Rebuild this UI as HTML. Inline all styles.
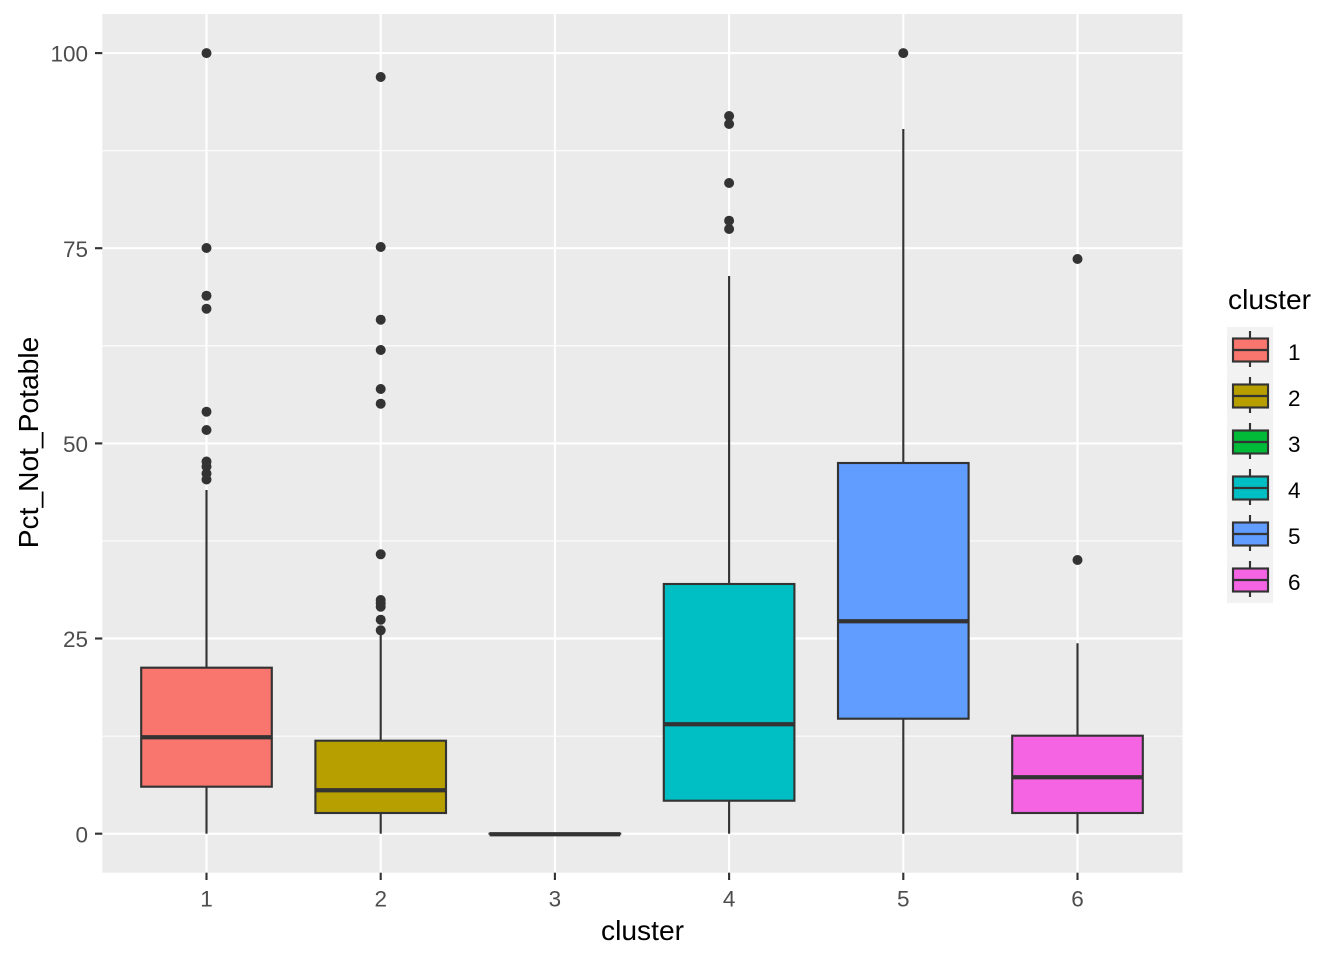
<!DOCTYPE html>
<html>
<head>
<meta charset="utf-8">
<style>
  html, body { margin: 0; padding: 0; background: #ffffff; }
  svg { display: block; }
  text { font-family: "Liberation Sans", Arial, sans-serif; }
</style>
</head>
<body>
<svg width="1344" height="960" viewBox="0 0 1344 960" xmlns="http://www.w3.org/2000/svg">
  <rect x="0" y="0" width="1344" height="960" fill="#ffffff"/>
  <!-- panel -->
  <rect x="102.3" y="14" width="1080.3" height="858.7" fill="#EBEBEB"/>
  <!-- minor grid -->
  <g stroke="#ffffff" stroke-width="1.07" fill="none">
    <line x1="102.3" x2="1182.6" y1="736.1" y2="736.1"/>
    <line x1="102.3" x2="1182.6" y1="541.0" y2="541.0"/>
    <line x1="102.3" x2="1182.6" y1="345.8" y2="345.8"/>
    <line x1="102.3" x2="1182.6" y1="150.7" y2="150.7"/>
  </g>
  <!-- major grid -->
  <g stroke="#ffffff" stroke-width="2.13" fill="none">
    <line x1="102.3" x2="1182.6" y1="833.7" y2="833.7"/>
    <line x1="102.3" x2="1182.6" y1="638.5" y2="638.5"/>
    <line x1="102.3" x2="1182.6" y1="443.4" y2="443.4"/>
    <line x1="102.3" x2="1182.6" y1="248.2" y2="248.2"/>
    <line x1="102.3" x2="1182.6" y1="53.1" y2="53.1"/>
    <line y1="14" y2="872.7" x1="206.5" x2="206.5"/>
    <line y1="14" y2="872.7" x1="380.7" x2="380.7"/>
    <line y1="14" y2="872.7" x1="554.9" x2="554.9"/>
    <line y1="14" y2="872.7" x1="729.1" x2="729.1"/>
    <line y1="14" y2="872.7" x1="903.3" x2="903.3"/>
    <line y1="14" y2="872.7" x1="1077.5" x2="1077.5"/>
  </g>

  <!-- whiskers -->
  <g stroke="#333333" stroke-width="2.13" fill="none">
    <line x1="206.5" x2="206.5" y1="490" y2="667.7"/>
    <line x1="206.5" x2="206.5" y1="786.7" y2="833.7"/>
    <line x1="380.7" x2="380.7" y1="635" y2="740.7"/>
    <line x1="380.7" x2="380.7" y1="813" y2="833.7"/>
    <line x1="729.1" x2="729.1" y1="276" y2="584"/>
    <line x1="729.1" x2="729.1" y1="800.7" y2="833.7"/>
    <line x1="903.3" x2="903.3" y1="129" y2="463"/>
    <line x1="903.3" x2="903.3" y1="718.7" y2="833.7"/>
    <line x1="1077.5" x2="1077.5" y1="643.3" y2="735.7"/>
    <line x1="1077.5" x2="1077.5" y1="813" y2="833.7"/>
  </g>

  <!-- boxes -->
  <g stroke="#333333" stroke-width="2.13">
    <rect x="141.2" y="667.7" width="130.6" height="119" fill="#F8766D"/>
    <rect x="315.4" y="740.7" width="130.6" height="72.3" fill="#B79F00"/>
    <rect x="489.6" y="833.7" width="130.6" height="0.01" fill="#00BA38"/>
    <rect x="663.8" y="584" width="130.6" height="216.7" fill="#00BFC4"/>
    <rect x="838.0" y="463" width="130.6" height="255.7" fill="#619CFF"/>
    <rect x="1012.2" y="735.7" width="130.6" height="77.3" fill="#F564E3"/>
  </g>
  <!-- medians -->
  <g stroke="#333333" stroke-width="4.26">
    <line x1="141.2" x2="271.8" y1="737.3" y2="737.3"/>
    <line x1="315.4" x2="446.0" y1="790.3" y2="790.3"/>
    <line x1="489.6" x2="620.2" y1="834.2" y2="834.2"/>
    <line x1="663.8" x2="794.4" y1="724.3" y2="724.3"/>
    <line x1="838.0" x2="968.6" y1="621.3" y2="621.3"/>
    <line x1="1012.2" x2="1142.8" y1="777.3" y2="777.3"/>
  </g>

  <!-- outliers -->
  <g fill="#333333">
    <circle cx="206.5" cy="53.1" r="5"/>
    <circle cx="206.5" cy="248" r="5"/>
    <circle cx="206.5" cy="295.7" r="5"/>
    <circle cx="206.5" cy="308.7" r="5"/>
    <circle cx="206.5" cy="411.7" r="5"/>
    <circle cx="206.5" cy="430" r="5"/>
    <circle cx="206.5" cy="461.5" r="5"/>
    <circle cx="206.5" cy="466.5" r="5"/>
    <circle cx="206.5" cy="473.5" r="5"/>
    <circle cx="206.5" cy="479.5" r="5"/>

    <circle cx="380.7" cy="77" r="5"/>
    <circle cx="380.7" cy="247" r="5"/>
    <circle cx="380.7" cy="319.7" r="5"/>
    <circle cx="380.7" cy="350" r="5"/>
    <circle cx="380.7" cy="389" r="5"/>
    <circle cx="380.7" cy="403.7" r="5"/>
    <circle cx="380.7" cy="554.3" r="5"/>
    <circle cx="380.7" cy="600" r="5"/>
    <circle cx="380.7" cy="603.3" r="5"/>
    <circle cx="380.7" cy="606.7" r="5"/>
    <circle cx="380.7" cy="619.7" r="5"/>
    <circle cx="380.7" cy="630.3" r="5"/>

    <circle cx="729.1" cy="116" r="5"/>
    <circle cx="729.1" cy="124" r="5"/>
    <circle cx="729.1" cy="183" r="5"/>
    <circle cx="729.1" cy="220.7" r="5"/>
    <circle cx="729.1" cy="229" r="5"/>

    <circle cx="903.3" cy="53.1" r="5"/>

    <circle cx="1077.5" cy="259" r="5"/>
    <circle cx="1077.5" cy="560" r="5"/>
  </g>

  <!-- axis ticks -->
  <g stroke="#333333" stroke-width="2.13">
    <line x1="95" x2="102.3" y1="833.7" y2="833.7"/>
    <line x1="95" x2="102.3" y1="638.5" y2="638.5"/>
    <line x1="95" x2="102.3" y1="443.4" y2="443.4"/>
    <line x1="95" x2="102.3" y1="248.2" y2="248.2"/>
    <line x1="95" x2="102.3" y1="53.1" y2="53.1"/>
    <line y1="872.7" y2="880" x1="206.5" x2="206.5"/>
    <line y1="872.7" y2="880" x1="380.7" x2="380.7"/>
    <line y1="872.7" y2="880" x1="554.9" x2="554.9"/>
    <line y1="872.7" y2="880" x1="729.1" x2="729.1"/>
    <line y1="872.7" y2="880" x1="903.3" x2="903.3"/>
    <line y1="872.7" y2="880" x1="1077.5" x2="1077.5"/>
  </g>

  <!-- y tick labels -->
  <g fill="#4D4D4D" font-size="22.5" text-anchor="end">
    <text x="88" y="842.3">0</text>
    <text x="88" y="647.1">25</text>
    <text x="88" y="452">50</text>
    <text x="88" y="256.8">75</text>
    <text x="88" y="61.7">100</text>
  </g>
  <!-- x tick labels -->
  <g fill="#4D4D4D" font-size="22.5" text-anchor="middle">
    <text x="206.5" y="906.5">1</text>
    <text x="380.7" y="906.5">2</text>
    <text x="554.9" y="906.5">3</text>
    <text x="729.1" y="906.5">4</text>
    <text x="903.3" y="906.5">5</text>
    <text x="1077.5" y="906.5">6</text>
  </g>

  <!-- axis titles -->
  <text x="642.5" y="940" font-size="28.2" text-anchor="middle" fill="#000000">cluster</text>
  <text transform="translate(38,442.5) rotate(-90)" font-size="28.2" text-anchor="middle" fill="#000000">Pct_Not_Potable</text>

  <!-- legend -->
  <text x="1228" y="309" font-size="28.2" fill="#000000">cluster</text>
  <rect x="1227" y="327" width="46" height="276" fill="#F2F2F2"/>
  <g stroke="#333333" stroke-width="2.13">
    <line x1="1250" x2="1250" y1="331" y2="367"/>
    <rect x="1233" y="338.5" width="35" height="23" fill="#F8766D"/>
    <line x1="1233" x2="1268" y1="350" y2="350"/>

    <line x1="1250" x2="1250" y1="377" y2="413"/>
    <rect x="1233" y="384.5" width="35" height="23" fill="#B79F00"/>
    <line x1="1233" x2="1268" y1="396" y2="396"/>

    <line x1="1250" x2="1250" y1="423" y2="459"/>
    <rect x="1233" y="430.5" width="35" height="23" fill="#00BA38"/>
    <line x1="1233" x2="1268" y1="442" y2="442"/>

    <line x1="1250" x2="1250" y1="469" y2="505"/>
    <rect x="1233" y="476.5" width="35" height="23" fill="#00BFC4"/>
    <line x1="1233" x2="1268" y1="488" y2="488"/>

    <line x1="1250" x2="1250" y1="515" y2="551"/>
    <rect x="1233" y="522.5" width="35" height="23" fill="#619CFF"/>
    <line x1="1233" x2="1268" y1="534" y2="534"/>

    <line x1="1250" x2="1250" y1="561" y2="597"/>
    <rect x="1233" y="568.5" width="35" height="23" fill="#F564E3"/>
    <line x1="1233" x2="1268" y1="580" y2="580"/>
  </g>
  <g fill="#000000" font-size="22.5">
    <text x="1288" y="360">1</text>
    <text x="1288" y="406">2</text>
    <text x="1288" y="452">3</text>
    <text x="1288" y="498">4</text>
    <text x="1288" y="544">5</text>
    <text x="1288" y="590">6</text>
  </g>
</svg>
</body>
</html>
